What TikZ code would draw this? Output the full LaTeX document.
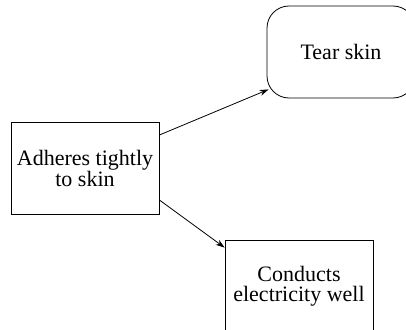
\documentclass[tikz,border=0pt]{standalone}
\usepackage{fontspec}
\setmainfont{Liberation Serif}
\usetikzlibrary{arrows.meta}

\begin{document}
\begin{tikzpicture}[x=1pt, y=-1pt,
  box/.style={draw, line width=0.8pt, minimum width=148pt, minimum height=92pt, align=center, font=\fontsize{22}{20}\selectfont},
  roundbox/.style={box, rounded corners=22pt},
  link/.style={-{Stealth[length=9pt,width=6pt]}, line width=0.8pt}]

\clip (0,0) rectangle (406,329);

% Boxes
\node[box] (adheres) at (85,168) {Adheres tightly\\to skin};
\node[roundbox] (tear) at (341,52) {Tear skin};
\node[box] (conducts) at (299,286) {Conducts\\electricity well};

\draw[link] ([yshift=33pt]adheres.east) -- ([xshift=2pt,yshift=9pt]tear.south west);
\draw[link] ([yshift=-32pt]adheres.east) -- ([yshift=-8pt]conducts.north west);

\end{tikzpicture}
\end{document}
